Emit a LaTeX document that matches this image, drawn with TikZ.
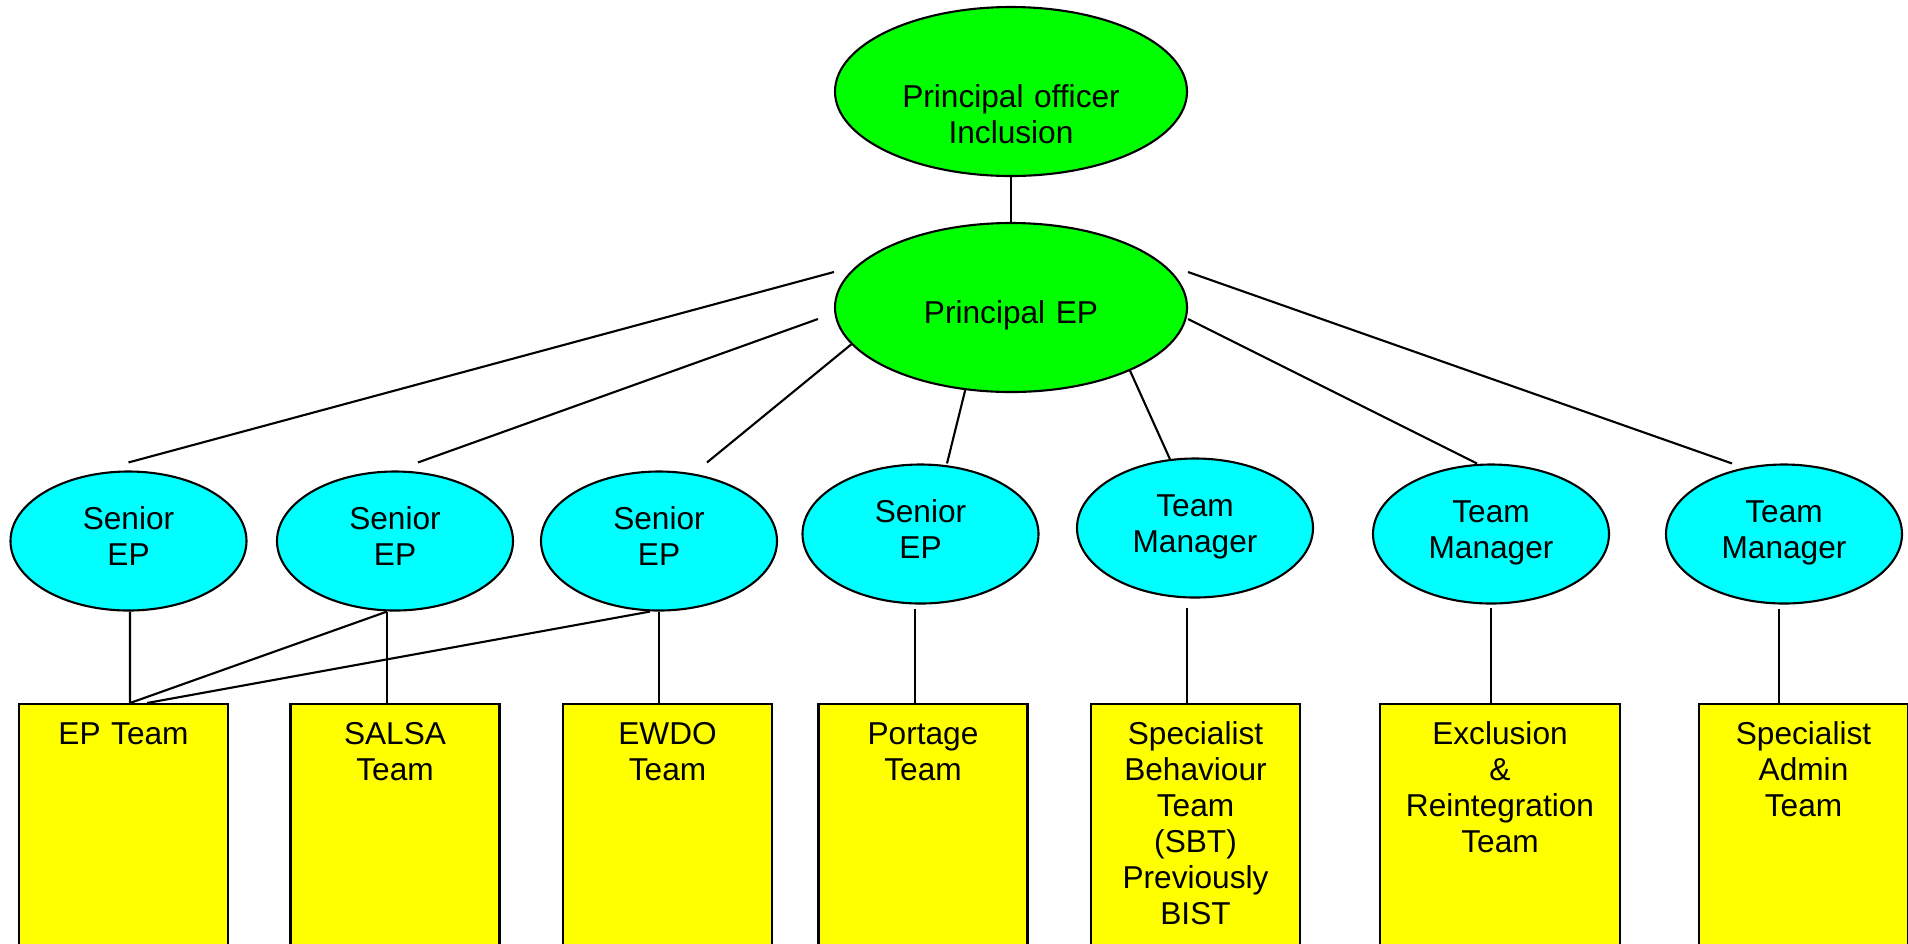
\documentclass[tikz,border=0pt]{standalone}
\usepackage{fontspec}
\setmainfont{Liberation Sans}
\usetikzlibrary{shapes.geometric}

\definecolor{headgreen}{RGB}{0,255,0}
\definecolor{senioraqua}{RGB}{0,255,255}
\definecolor{teamyellow}{RGB}{255,255,0}

\begin{document}
\begin{tikzpicture}[line width = 0.6pt,
                    font = \fontsize{9pt}{10.24pt}\selectfont,
                    head/.style = {ellipse, draw, fill = headgreen, minimum width = 3.52cm, minimum height = 1.69cm, inner sep = 0pt, text width = 2.45cm, align = center},
                    senior/.style = {ellipse, draw, fill = senioraqua, minimum width = 2.36cm, minimum height = 1.39cm, inner sep = 0pt, text width = 1.5cm, align = center, text height = 0.25cm, text depth = 0.48cm},
                    team/.style = {rectangle, draw, fill = teamyellow, anchor = north, inner sep = 0pt, text width = 2.09cm, align = center, text height = 0.4cm, text depth = 2.2cm}]

\path[use as bounding box, clip] (0,0) rectangle (19.08,-9.43);

% heads
\node [head] (P1) at (10.11,-0.915)[text height = 0.62cm, text depth = 0.31cm]{Principal officer\\Inclusion};
\node [head] (P2) at (10.11,-3.075)[text height = 0.45cm, text depth = 0.14cm]{Principal EP};

% seniors and managers
\node [senior] (S1) at (1.285,-5.41) {Senior\\EP};
\node [senior] (S2) at (3.95,-5.41) {Senior\\EP};
\node [senior] (S3) at (6.59,-5.41) {Senior\\EP};
\node [senior] (S4) at (9.205,-5.34) {Senior\\EP};
\node [senior] (S5) at (11.95,-5.28) {Team\\Manager};
\node [senior] (S6) at (14.91,-5.34) {Team\\Manager};
\node [senior] (S7) at (17.84,-5.34) {Team\\Manager};

% teams
\node [team] (B1) at (1.235,-7.03) {EP Team};
\node [team] (B2) at (3.95,-7.03) {SALSA\\Team};
\node [team] (B3) at (6.675,-7.03) {EWDO\\Team};
\node [team] (B4) at (9.23,-7.03) {Portage\\Team};
\node [team] (B5) at (11.955,-7.03) {Specialist\\Behaviour\\Team\\(SBT)\\Previously\\BIST};
\node [team] (B6) at (15.0,-7.03)[text width = 2.4cm]{Exclusion\\\&\\Reintegration\\Team};
\node [team] (B7) at (18.035,-7.03) {Specialist\\Admin\\Team};

\draw (P1)--(P2);

\draw ([yshift=0.355cm]P2.west)--([yshift=0.08cm]S1.north);
\draw ([xshift=-0.16cm,yshift=-0.115cm]P2.west)--([xshift=0.23cm,yshift=0.08cm]S2.north);
\draw (P2.193)--([xshift=0.48cm,yshift=0.08cm]S3.north);
\draw (P2.241)--([xshift=0.265cm]S4.north);
\draw (P2.332)--(S5.110);
\draw ([yshift=-0.115cm]P2.east)--([xshift=-0.14cm]S6.north);
\draw ([yshift=0.355cm]P2.east)--([xshift=-0.52cm]S7.north);

\draw ([xshift=0.015cm]S1.south)--([xshift=0.065cm]B1.north);
\draw ([xshift=-0.08cm]S2.south)--([xshift=0.065cm]B1.north);
\draw ([xshift=-0.09cm]S3.south)--([xshift=0.235cm]B1.north);
\draw ([xshift=-0.08cm]S2.south)--([xshift=-0.08cm]S2.south |- B2.north);
\draw (S3.south)--(S3.south |- B3.north);
\draw ([xshift=-0.055cm,yshift=-0.04cm]S4.south)--([xshift=-0.055cm]S4.south |- B4.north);
\draw ([xshift=-0.08cm,yshift=-0.09cm]S5.south)--([xshift=-0.08cm]S5.south |- B5.north);
\draw ([yshift=-0.03cm]S6.south)--(S6.south |- B6.north);
\draw ([xshift=-0.05cm,yshift=-0.04cm]S7.south)--([xshift=-0.05cm]S7.south |- B7.north);

\end{tikzpicture}
\end{document}
